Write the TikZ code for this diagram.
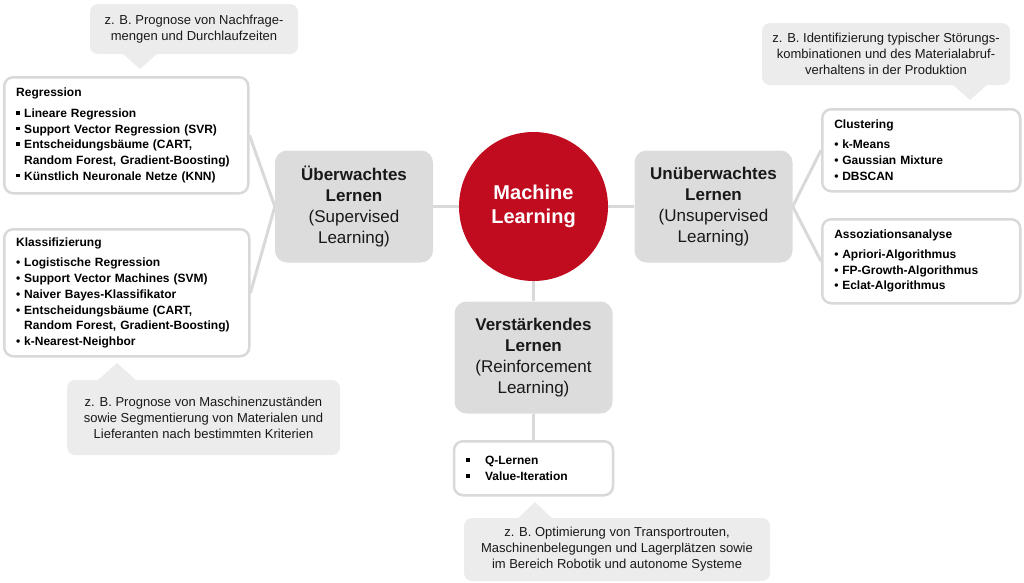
\documentclass[tikz,border=0pt]{standalone}
\usepackage{fontspec}
\setmainfont{Liberation Sans}
\usetikzlibrary{calc}
\pgfdeclarelayer{background}
\pgfsetlayers{background,main}
\definecolor{mlred}{RGB}{193,12,32}
\definecolor{boxgray}{RGB}{220,220,220}
\definecolor{callgray}{RGB}{236,236,236}
\definecolor{linegray}{RGB}{217,217,217}
\definecolor{txtdark}{RGB}{25,25,25}
\newcommand\sqbul{\raisebox{0.22em}{\rule{0.3em}{0.3em}}}
\newcommand\itemsq[1]{\makebox[8pt][l]{\sqbul}#1}
\newcommand\itemdot[1]{\makebox[8pt][l]{\textbullet}#1}
\newcommand\itemcont[1]{\hspace*{8pt}#1}
\begin{document}
\begin{tikzpicture}[x=1pt,y=-1pt,
  mainbox/.style={fill=boxgray, rounded corners=12pt, minimum width=158pt, minimum height=112pt, inner sep=0pt, align=center, text=txtdark, font=\fontsize{17}{21}\selectfont},
  listbox/.style={draw=linegray, line width=2.5pt, fill=white, rounded corners=9pt, anchor=north west, align=left, inner xsep=12pt, inner ysep=0pt, text=black, font=\fontsize{12}{15.7}\selectfont\bfseries},
  callout/.style={fill=callgray, rounded corners=8pt, align=center, inner sep=0pt, text=txtdark, font=\fontsize{13}{16}\selectfont},
  conn/.style={draw=linegray, line width=3pt},
  mlcircle/.style={circle, fill=mlred, minimum size=149pt, inner sep=0pt, align=center, text=white, font=\fontsize{20}{24}\selectfont\bfseries},
]
\useasboundingbox (0,0) rectangle (1024,582);

% central circle and main boxes
\node[mlcircle] (ml) at (533.5,206.5) {Machine\\Learning};
\node[mainbox] (ueb) at (354,206.5) {\textbf{Überwachtes}\\\textbf{Lernen}\\(Supervised\\Learning)};
\node[mainbox] (unueb) at (713.5,206.5) {\textbf{Unüberwachtes}\\\textbf{Lernen}\\(Unsupervised\\Learning)};
\node[mainbox] (verst) at (533.5,357.5) {\textbf{Verstärkendes}\\\textbf{Lernen}\\(Reinforcement\\Learning)};

% list boxes
\node[listbox, text width=220pt, minimum height=116pt] (reg) at (3,76) {Regression\\[5pt]
\itemsq{Lineare Regression}\\
\itemsq{Support Vector Regression (SVR)}\\
\itemsq{Entscheidungsbäume (CART,}\\
\itemcont{Random Forest, Gradient-Boosting)}\\
\itemsq{Künstlich Neuronale Netze (KNN)}};

\node[listbox, text width=221pt, minimum height=127pt] (kla) at (3,228) {Klassifizierung\\[5pt]
\itemdot{Logistische Regression}\\
\itemdot{Support Vector Machines (SVM)}\\
\itemdot{Naiver Bayes-Klassifikator}\\
\itemdot{Entscheidungsbäume (CART,}\\
\itemcont{Random Forest, Gradient-Boosting)}\\
\itemdot{k-Nearest-Neighbor}};

\node[listbox, text width=174pt, minimum height=82pt] (clu) at (821,108) {Clustering\\[4pt]
\itemdot{k-Means}\\
\itemdot{Gaussian Mixture}\\
\itemdot{DBSCAN}};

\node[listbox, text width=174pt, minimum height=84pt] (ass) at (821,218) {Assoziationsanalyse\\[4pt]
\itemdot{Apriori-Algorithmus}\\
\itemdot{FP-Growth-Algorithmus}\\
\itemdot{Eclat-Algorithmus}};

\node[listbox, anchor=north, text width=135pt, minimum height=54pt] (q) at (533.5,440) {\makebox[19pt][l]{\sqbul}Q-Lernen\\
\makebox[19pt][l]{\sqbul}Value-Iteration};

% callouts
\node[callout, minimum width=208pt, minimum height=50pt] (c1) at (194,29) {z. B. Prognose von Nachfrage-\\mengen und Durchlaufzeiten};
\fill[callgray] (122,53) -- (140,69) -- (158,53) -- cycle;

\node[callout, minimum width=273pt, minimum height=75pt] (c2) at (203.5,417.5) {z. B. Prognose von Maschinenzuständen\\sowie Segmentierung von Materialen und\\Lieferanten nach bestimmten Kriterien};
\fill[callgray] (97,381) -- (117,363) -- (137,381) -- cycle;

\node[callout, minimum width=248pt, minimum height=62pt] (c3) at (886,54) {z. B. Identifizierung typischer Störungs-\\kombinationen und des Materialabruf-\\verhaltens in der Produktion};
\fill[callgray] (952,84) -- (970,100) -- (988,84) -- cycle;

\node[callout, minimum width=306pt, minimum height=63pt] (c4) at (617,549.5) {z. B. Optimierung von Transportrouten,\\Maschinenbelegungen und Lagerplätzen sowie\\im Bereich Robotik und autonome Systeme};
\fill[callgray] (517,519) -- (535,502) -- (553,519) -- cycle;

% connectors
\begin{pgfonlayer}{background}
\draw[conn] (reg.east) -- (ueb.west) -- (kla.east);
\draw[conn] (clu.west) -- (unueb.east) -- (ass.west);
\draw[conn] (ueb.east) -- (ml.west);
\draw[conn] (ml.east) -- (unueb.west);
\draw[conn] (ml.south) -- (verst.north);
\draw[conn] (verst.south) -- (q.north);
\end{pgfonlayer}
\end{tikzpicture}
\end{document}
